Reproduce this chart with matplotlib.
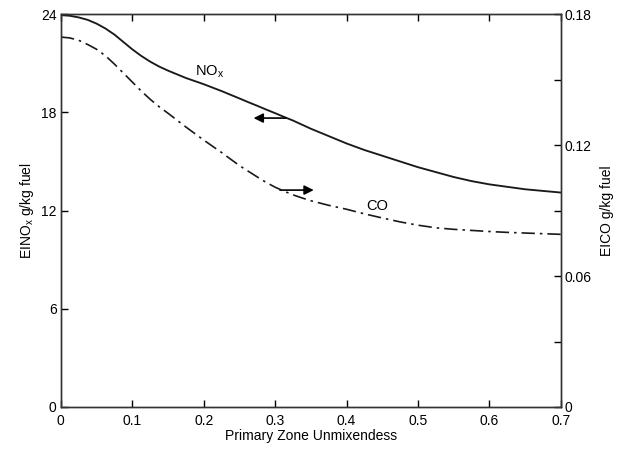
import matplotlib.pyplot as plt

plt.rcParams['font.family'] = ['Liberation Sans', 'DejaVu Sans']

# Valores (eixo esquerdo: NOx, eixo direito: CO)
unmix = [0.0, 0.0125, 0.025, 0.0375, 0.05, 0.0625, 0.075, 0.0875, 0.1, 0.1125,
         0.125, 0.1375, 0.15, 0.175, 0.2, 0.225, 0.25, 0.2625, 0.275, 0.2875,
         0.3, 0.3125, 0.325, 0.3375, 0.35, 0.375, 0.4, 0.425, 0.45, 0.475, 0.5,
         0.525, 0.55, 0.575, 0.6, 0.625, 0.65, 0.675, 0.7]
ei_nox = [23.94, 23.9, 23.8, 23.65, 23.42, 23.12, 22.75, 22.3, 21.85, 21.45,
          21.1, 20.8, 20.55, 20.1, 19.72, 19.3, 18.85, 18.62, 18.4, 18.17,
          17.95, 17.72, 17.5, 17.25, 17.0, 16.55, 16.1, 15.7, 15.35, 15.0, 14.65,
          14.35, 14.05, 13.8, 13.6, 13.45, 13.3, 13.2, 13.1]
ei_co = [0.1695, 0.1691, 0.1680, 0.1661, 0.1639, 0.1609, 0.1571, 0.1530, 0.1489,
         0.1448, 0.1410, 0.1376, 0.1346, 0.1283, 0.1223, 0.1166, 0.1106, 0.1080,
         0.1054, 0.1029, 0.1007, 0.0989, 0.0972, 0.0958, 0.0945, 0.0924, 0.0906,
         0.0885, 0.0866, 0.0848, 0.0833, 0.0821, 0.0814, 0.0809, 0.0804, 0.0800,
         0.0797, 0.0794, 0.0791]

x_ticks = [0, 0.1, 0.2, 0.3, 0.4, 0.5, 0.6, 0.7]
x_labels = ['0', '0.1', '0.2', '0.3', '0.4', '0.5', '0.6', '0.7']
nox_ticks = [0, 6, 12, 18, 24]
co_ticks = [0, 0.06, 0.12, 0.18]
co_labels = ['0', '0.06', '0.12', '0.18']
co_minor = [0.03, 0.09, 0.15]

fig = plt.figure(figsize=(6.21, 4.5), dpi=100)
ax = fig.add_axes([0.098, 0.0956, 0.805, 0.873])
ax2 = ax.twinx()

ax.plot(unmix, ei_nox, color='#1a1a1a', lw=1.35, solid_joinstyle='round')
ax2.plot(unmix, ei_co, color='#1a1a1a', lw=1.2, dashes=(8, 3, 1.5, 3))

ax.set_xlim(0, 0.7)
ax.set_ylim(0, 24)
ax2.set_ylim(0, 0.18)
ax.set_xticks(x_ticks)
ax.set_xticklabels(x_labels)
ax.set_yticks(nox_ticks)
ax2.set_yticks(co_ticks)
ax2.set_yticklabels(co_labels)
ax2.set_yticks(co_minor, minor=True)

ax.tick_params(axis='x', direction='in', top=True, length=5, width=1, labelsize=10, pad=5)
ax.tick_params(axis='y', direction='in', length=5, width=1, labelsize=10, pad=3)
ax2.tick_params(which='both', direction='in', length=5, width=1, labelsize=10, pad=3)

for a in (ax, ax2):
    for s in a.spines.values():
        s.set_linewidth(1.0)
        s.set_color('#333333')

ax.set_xlabel('Primary Zone Unmixendess', fontsize=10, labelpad=1)
ax.set_ylabel('EINO$_\\mathregular{x}$ g/kg fuel', fontsize=10, labelpad=4)
ax2.set_ylabel('EICO g/kg fuel', fontsize=10, labelpad=6)

ax.text(0.188, 19.95, 'NO$_\\mathregular{x}$', fontsize=10.5, ha='left', va='bottom')
ax.text(0.443, 11.85, 'CO', fontsize=10.5, ha='center', va='bottom')
ax.annotate('', xy=(0.266, 17.65), xytext=(0.319, 17.65),
            arrowprops=dict(arrowstyle='-|>', color='black', lw=1.2, mutation_scale=14))
ax.annotate('', xy=(0.358, 13.25), xytext=(0.303, 13.25),
            arrowprops=dict(arrowstyle='-|>', color='black', lw=1.2, mutation_scale=14))

fig.savefig('out.png', dpi=100)
